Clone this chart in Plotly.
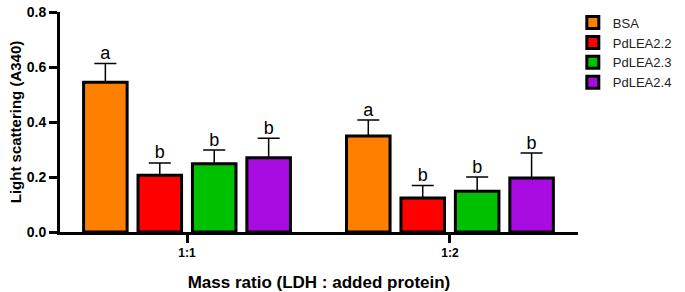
import plotly.graph_objects as go

categories = ["1:1", "1:2"]
series_names = ["BSA", "PdLEA2.2", "PdLEA2.3", "PdLEA2.4"]
means = {
    "BSA": [0.545, 0.349],
    "PdLEA2.2": [0.206, 0.124],
    "PdLEA2.3": [0.248, 0.148],
    "PdLEA2.4": [0.270, 0.196],
}
errors = {
    "BSA": [0.068, 0.058],
    "PdLEA2.2": [0.045, 0.045],
    "PdLEA2.3": [0.050, 0.052],
    "PdLEA2.4": [0.071, 0.091],
}
letters = {
    "BSA": ["a", "a"],
    "PdLEA2.2": ["b", "b"],
    "PdLEA2.3": ["b", "b"],
    "PdLEA2.4": ["b", "b"],
}
y_ticks = [0.0, 0.2, 0.4, 0.6, 0.8]
y_ticklabels = ["0.0", "0.2", "0.4", "0.6", "0.8"]
colors = ["#FF8000", "#FF0000", "#00C000", "#A80CE0"]

fig = go.Figure()
for i, name in enumerate(series_names):
    fig.add_trace(go.Bar(
        x=categories, y=means[name], name=name,
        marker=dict(color=colors[i], line=dict(color="black", width=3)),
        error_y=dict(type="data", array=errors[name], arrayminus=[0, 0], symmetric=False,
                     color="black", thickness=1.5, width=11),
        offsetgroup=f"g{i}",
    ))
for i, name in enumerate(series_names):
    fig.add_trace(go.Scatter(
        x=categories, y=[m + e for m, e in zip(means[name], errors[name])],
        mode="text", text=letters[name], textposition="top center",
        textfont=dict(family="Arial", size=18, color="black"),
        offsetgroup=f"g{i}", showlegend=False, hoverinfo="skip",
    ))

fig.update_layout(
    width=685, height=292,
    margin=dict(l=60, r=103, t=8, b=60),
    plot_bgcolor="white", paper_bgcolor="white",
    barmode="group", scattermode="group",
    bargap=0.172, bargroupgap=0.2,
    font=dict(family="Arial", color="black"),
    legend=dict(x=0.99, y=1.02, xanchor="left", yanchor="top",
                font=dict(family="Arial", size=13, color="#222"),
                tracegroupgap=0, itemwidth=30),
    xaxis=dict(
        range=[-0.483, 1.487], showline=True, linewidth=3, linecolor="black",
        ticks="outside", ticklen=8, tickwidth=3, tickcolor="black",
        tickfont=dict(family="Arial", size=12, color="black", weight="bold"),
        title=dict(text="Mass ratio (LDH : added protein)",
                   font=dict(family="Arial", size=17, color="black", weight="bold"),
                   standoff=20),
        showgrid=False, automargin=False,
    ),
    yaxis=dict(
        range=[0, 0.8], tickvals=y_ticks, ticktext=y_ticklabels,
        ticklabeloverflow="allow",
        showline=True, linewidth=3, linecolor="black",
        ticks="outside", ticklen=8, tickwidth=3, tickcolor="black",
        tickfont=dict(family="Arial", size=14, color="black", weight="bold"),
        title=dict(text="Light scattering (A340)",
                   font=dict(family="Arial", size=15, color="black", weight="bold"),
                   standoff=2),
        showgrid=False, zeroline=False, automargin=False,
    ),
)

fig.write_html("out.html", config={"displayModeBar": False},
               post_script="document.body.style.margin='0';")
